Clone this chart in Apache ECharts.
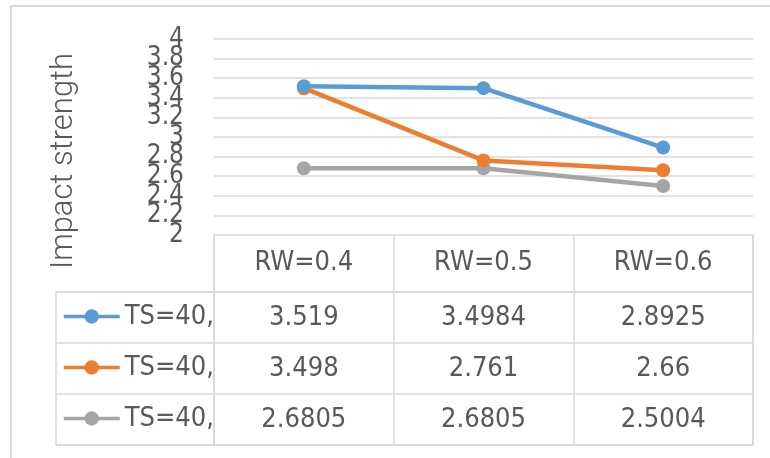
<!DOCTYPE html>
<html>
<head>
<meta charset="utf-8">
<script src="https://cdn.jsdelivr.net/npm/echarts@6/dist/echarts.min.js"></script>
<style>
  html, body { margin: 0; padding: 0; background: #fff; }
  #chart { width: 770px; height: 458px; }
</style>
</head>
<body>
<div id="chart"></div>
<script>
// Impact strength vs RW, three TS=40 series, with data table below

const categories = ["RW=0.4", "RW=0.5", "RW=0.6"];
// names render the same; zero-width spaces keep them apart for the legend
const seriesNames = ["TS=40,", "TS=40,\u200b", "TS=40,\u200b\u200b"];
const blueValues = [3.519, 3.4984, 2.8925];
const orangeValues = [3.498, 2.761, 2.66];
const grayValues = [2.6805, 2.6805, 2.5004];
const colors = ["#5B9BD5", "#ED7D31", "#A5A5A5"];
const yMin = 2;
const yMax = 4;
const yStep = 0.2;

const allValues = [blueValues, orangeValues, grayValues];
const narrowFont = '"Liberation Sans Narrow", "DejaVu Sans Condensed", sans-serif';
const textColor = "#595959";
const lineColor = "#D9D9D9";

const chartDom = document.getElementById("chart");
const myChart = echarts.init(chartDom);

const lineSeries = allValues.map((values, i) => ({
  name: seriesNames[i],
  type: "line",
  xAxisIndex: 0,
  yAxisIndex: 0,
  data: values,
  symbol: "circle",
  symbolSize: 14,
  color: colors[i],
  lineStyle: { width: 4.5, color: colors[i] },
  itemStyle: { color: colors[i] },
  z: 3 - i + 2,
}));

const tableSeries = allValues.map((values, i) => ({
  type: "scatter",
  xAxisIndex: 2,
  yAxisIndex: 2,
  symbolSize: 0,
  silent: true,
  data: values.map((v, j) => [categories[j], seriesNames[i], v]),
  label: {
    show: true,
    position: "inside",
    formatter: (p) => String(p.value[2]),
    fontFamily: narrowFont,
    fontSize: 27,
    color: textColor,
    textBorderWidth: 0,
    opacity: 1,
  },
}));

const tickLabelStyle = {
  margin: 30,
  fontFamily: narrowFont,
  fontSize: 26,
  color: textColor,
};

const option = {
  backgroundColor: "#fff",
  animation: false,
  graphic: [
    {
      type: "rect",
      shape: { x: 11, y: 6, width: 820, height: 520 },
      style: { fill: "none", stroke: lineColor, lineWidth: 2 },
      silent: true,
    },
  ],
  legend: {
    data: seriesNames,
    orient: "vertical",
    left: 62,
    top: 301,
    itemWidth: 56,
    itemHeight: 18,
    itemGap: 20,
    padding: 0,
    lineStyle: { width: 3.5 },
    textStyle: {
      fontFamily: narrowFont,
      fontSize: 27,
      lineHeight: 31,
      color: textColor,
    },
  },
  grid: [
    { left: 214, right: 17, top: 39, bottom: 223 },
    { left: 214, right: 17, top: 235, bottom: 166, show: true, borderColor: lineColor, borderWidth: 1.5 },
    { left: 214, right: 17, top: 292, bottom: 13, show: true, borderColor: lineColor, borderWidth: 1.5 },
    { left: 56, right: 556, top: 292, bottom: 13, show: true, borderColor: lineColor, borderWidth: 1.5 },
  ],
  xAxis: [
    {
      type: "category",
      gridIndex: 0,
      data: categories,
      boundaryGap: true,
      axisLine: { show: false },
      axisTick: { show: false },
      axisLabel: { show: false },
    },
    {
      type: "category",
      gridIndex: 1,
      data: categories,
      position: "top",
      axisLine: { show: false },
      axisTick: { show: false },
      splitLine: { show: true, interval: 0, lineStyle: { color: lineColor, width: 1.5 } },
      axisLabel: {
        inside: true,
        margin: 28,
        verticalAlign: "middle",
        fontFamily: narrowFont,
        fontSize: 27,
        color: textColor,
      },
    },
    {
      type: "category",
      gridIndex: 2,
      data: categories,
      axisLine: { show: false },
      axisTick: { show: false },
      axisLabel: { show: false },
      splitLine: { show: true, interval: 0, lineStyle: { color: lineColor, width: 1.5 } },
    },
    { type: "value", gridIndex: 3, show: false },
  ],
  yAxis: [
    {
      type: "value",
      gridIndex: 0,
      min: yMin,
      max: yMax,
      interval: yStep,
      axisLine: { show: false },
      axisTick: { show: false },
      splitLine: { showMinLine: false, lineStyle: { color: lineColor, width: 1.5 } },
      axisLabel: { ...tickLabelStyle, showMinLabel: false, showMaxLabel: false },
      name: "Impact strength",
      nameLocation: "middle",
      nameRotate: 90,
      nameGap: 134,
      nameTextStyle: {
        fontFamily: "Roboto, sans-serif",
        fontWeight: 300,
        fontSize: 31,
        color: textColor,
        padding: [0, 48, 0, 0],
      },
    },
    { type: "value", gridIndex: 1, show: false },
    {
      type: "category",
      gridIndex: 2,
      data: seriesNames,
      inverse: true,
      axisLine: { show: false },
      axisTick: { show: false },
      axisLabel: { show: false },
      splitLine: { show: true, interval: 0, lineStyle: { color: lineColor, width: 1.5 } },
    },
    {
      type: "category",
      gridIndex: 3,
      data: seriesNames,
      inverse: true,
      axisLine: { show: false },
      axisTick: { show: false },
      axisLabel: { show: false },
      splitLine: { show: true, interval: 0, lineStyle: { color: lineColor, width: 1.5 } },
    },
    {
      // second copy of the scale, only for the end labels 2 and 4
      type: "value",
      gridIndex: 0,
      position: "left",
      min: yMin,
      max: yMax,
      interval: yStep,
      axisLine: { show: false },
      axisTick: { show: false },
      splitLine: { show: false },
      axisLabel: {
        ...tickLabelStyle,
        showMinLabel: true,
        showMaxLabel: true,
        formatter: (v) => (v === yMin || v === yMax ? String(v) : ""),
      },
    },
  ],
  series: [...lineSeries, ...tableSeries],
};

myChart.setOption(option);
</script>
</body>
</html>
